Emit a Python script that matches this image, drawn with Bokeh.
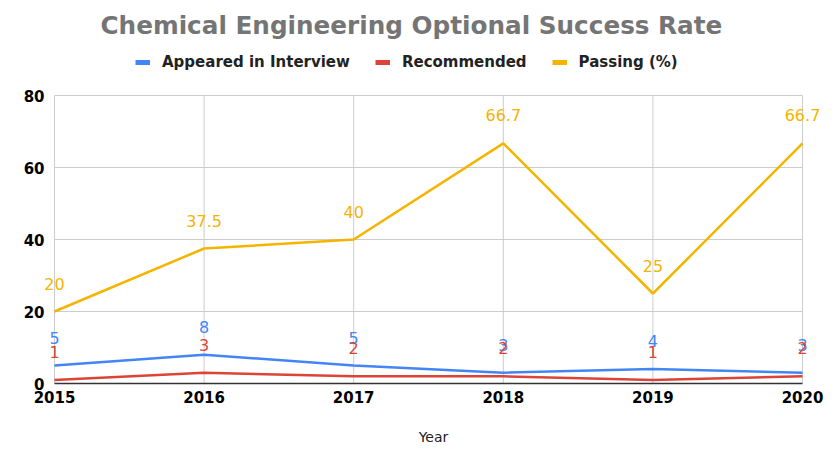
from bokeh.plotting import figure
from bokeh.models import ColumnDataSource, LabelSet, Legend, LegendItem, FixedTicker
from bokeh.core.properties import value
from bokeh.embed import file_html
from bokeh.resources import INLINE

years = [2015, 2016, 2017, 2018, 2019, 2020]
appeared = [5, 8, 5, 3, 4, 3]
recommended = [1, 3, 2, 2, 1, 2]
passing = [20, 37.5, 40, 66.7, 25, 66.7]
y_ticks = [0, 20, 40, 60, 80]

BLUE = "#4285F4"
RED = "#DB4437"
YELLOW = "#F4B400"
GRID = "#cccccc"
FONT = "DejaVu Sans"

src = ColumnDataSource(dict(
    year=years, appeared=appeared, recommended=recommended, passing=passing,
    appeared_t=[str(v) for v in appeared],
    recommended_t=[str(v) for v in recommended],
    passing_t=[str(v) for v in passing],
))

# frame is a bit wider/taller than the gridded area so edge labels and the legend are not clipped
px_per_year = 748 / 5
px_per_unit = 288 / 80
x_range = (years[0] - 10 / px_per_year, years[-1] + 20 / px_per_year)
y_range = (0, y_ticks[-1] + 50 / px_per_unit)

p = figure(width=837, height=452, output_backend="svg", toolbar_location=None,
           x_range=x_range, y_range=y_range,
           min_border_left=44, min_border_right=15, min_border_bottom=69, min_border_top=45)

p.title.text = "Chemical Engineering Optional Success Rate"
p.title.align = "left"
p.title.offset = 56
p.title.standoff = 11
p.title.text_font = FONT
p.title.text_font_size = "24.7px"
p.title.text_font_style = "bold"
p.title.text_color = "#757575"

# grid lines limited to the data area
p.segment(x0=years, y0=[y_ticks[0]] * len(years), x1=years, y1=[y_ticks[-1]] * len(years),
          line_color=GRID, line_width=1)
p.segment(x0=[years[0]] * len(y_ticks), y0=y_ticks, x1=[years[-1]] * len(y_ticks), y1=y_ticks,
          line_color=GRID, line_width=1)

p.line("year", "appeared", source=src, color=BLUE, line_width=2.5)
p.line("year", "recommended", source=src, color=RED, line_width=2.5)
p.line("year", "passing", source=src, color=YELLOW, line_width=2.5)

# single-point lines: draw nothing in the plot, only provide thick legend swatches
dummy = []
for c in (BLUE, RED, YELLOW):
    dummy.append(p.line(x=[years[0]], y=[y_ticks[0]], color=c, line_width=5))

legend = Legend(items=[
    LegendItem(label="Appeared in Interview", renderers=[dummy[0]]),
    LegendItem(label="Recommended", renderers=[dummy[1]]),
    LegendItem(label="Passing (%)", renderers=[dummy[2]]),
], orientation="horizontal", location=(91, 312), border_line_color=None,
   background_fill_alpha=0, glyph_width=15, glyph_height=10, label_standoff=12,
   spacing=25, label_text_font=FONT, label_text_font_size="15px",
   label_text_font_style="bold", label_text_color="#222222", padding=0, margin=0)
p.add_layout(legend, "center")

for col, c in (("appeared", BLUE), ("recommended", RED), ("passing", YELLOW)):
    p.add_layout(LabelSet(x="year", y=col, text=col + "_t", source=src,
                          text_color=c, text_font=value(FONT), text_font_size="16px",
                          text_align="center", text_baseline="middle", y_offset=28))

p.xgrid.visible = False
p.ygrid.visible = False

p.xaxis.ticker = FixedTicker(ticks=years)
p.yaxis.ticker = FixedTicker(ticks=y_ticks)
p.xaxis.bounds = (years[0], years[-1])
p.xaxis.axis_label = "Year"
p.xaxis.axis_label_text_font = FONT
p.xaxis.axis_label_text_font_size = "14px"
p.xaxis.axis_label_text_font_style = "normal"
p.xaxis.axis_label_text_color = "#222222"
p.xaxis.axis_label_standoff = 23
for ax in (p.xaxis, p.yaxis):
    ax.major_label_text_font = FONT
    ax.major_label_text_font_size = "15px"
    ax.major_label_text_font_style = "bold"
    ax.major_label_text_color = "#000000"
    ax.major_tick_line_color = None
    ax.minor_tick_line_color = None
    ax.major_tick_out = 0
    ax.major_tick_in = 0
p.xaxis.axis_line_color = "#333333"
p.xaxis.axis_line_width = 1.5
p.xaxis.major_label_standoff = 7
p.yaxis.axis_line_color = None
p.yaxis.major_label_standoff = 0

p.outline_line_color = None
p.background_fill_color = "white"

open("out.html", "w").write(file_html(p, INLINE))
